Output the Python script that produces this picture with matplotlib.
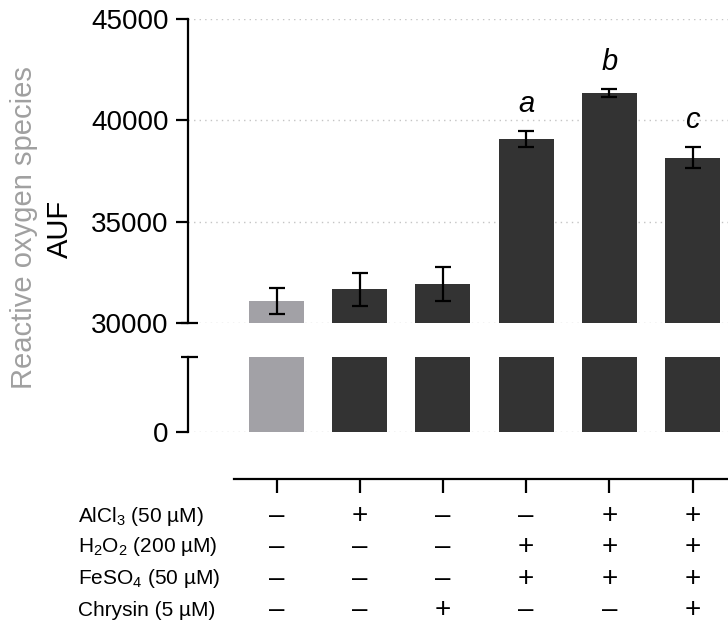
import matplotlib.pyplot as plt
from matplotlib.transforms import blended_transform_factory

plt.rcParams['font.family'] = ['Liberation Sans', 'DejaVu Sans']
plt.rcParams['mathtext.fontset'] = 'custom'
plt.rcParams['mathtext.rm'] = 'Liberation Sans'
plt.rcParams['mathtext.it'] = 'Liberation Sans:italic'

# data
groups = [0, 1, 2, 3, 4, 5]
ros_mean = [31100, 31660, 31910, 39080, 41340, 38160]
ros_err = [650, 800, 840, 380, 200, 500]
bar_colors = ['#a2a1a6', '#333333', '#333333', '#333333', '#333333', '#333333']
sig_letters = ['', '', '', 'a', 'b', 'c']

row_labels = [r'AlCl$_3$ (50 µM)', r'H$_2$O$_2$ (200 µM)',
              r'FeSO$_4$ (50 µM)', 'Chrysin (5 µM)']
treatments = [
    [0, 1, 0, 0, 1, 1],   # AlCl3
    [0, 0, 0, 1, 1, 1],   # H2O2
    [0, 0, 0, 1, 1, 1],   # FeSO4
    [0, 0, 1, 0, 0, 1],   # Chrysin
]

W, H = 728, 629
fig = plt.figure(figsize=(W / 100, H / 100), dpi=100)

def fx(px):
    return px / W

def fy(py):
    return 1 - py / H

left = fx(188)
width = 1 - left
xlim = (-1.064, 5.426)

ax_top = fig.add_axes([left, fy(323), width, fy(19) - fy(323)])
ax_bot = fig.add_axes([left, fy(432), width, fy(357) - fy(432)])
ax_tab = fig.add_axes([left, fy(479), width, 0.01])

grid_kw = dict(color='#c4c4c4', linestyle=(0, (1, 3)), linewidth=1.0, zorder=0)

for ax in (ax_top, ax_bot):
    ax.bar(groups, ros_mean, width=0.66, color=bar_colors, zorder=2)
    ax.set_xlim(*xlim)
    ax.spines[['top', 'right', 'bottom']].set_visible(False)
    ax.spines['left'].set_linewidth(1.6)
    ax.set_xticks([])
    ax.tick_params(axis='y', length=9, width=1.6, pad=5, labelsize=20)

# upper segment
ax_top.errorbar(groups, ros_mean, yerr=ros_err, fmt='none', ecolor='black',
                elinewidth=1.6, capsize=5.5, capthick=1.6, zorder=3)
ax_top.set_ylim(30000, 45000)
ax_top.set_yticks([30000, 35000, 40000, 45000])
for v in [30000, 35000, 40000, 45000]:
    ax_top.axhline(v, **grid_kw)
for x, m, e, s in zip(groups, ros_mean, ros_err, sig_letters):
    if s:
        ax_top.annotate(s, (x, m + e), xytext=(0, 14), textcoords='offset points',
                        ha='center', va='baseline', fontsize=21, style='italic')

# lower segment
ax_bot.set_ylim(0, 1000)
ax_bot.set_yticks([0])
ax_bot.axhline(0, **grid_kw)

# break caps
ax_top.plot([-0.013, 0.018], [0, 0], transform=ax_top.transAxes,
            color='black', lw=1.6, clip_on=False, solid_capstyle='butt')
ax_bot.plot([-0.013, 0.018], [1, 1], transform=ax_bot.transAxes,
            color='black', lw=1.6, clip_on=False, solid_capstyle='butt')

# treatment table
ax_tab.set_xlim(*xlim)
ax_tab.set_ylim(0, 1)
ax_tab.patch.set_visible(False)
ax_tab.spines[['top', 'right', 'left']].set_visible(False)
ax_tab.spines['bottom'].set_linewidth(1.6)
ax_tab.spines['bottom'].set_bounds(-0.51, xlim[1])
ax_tab.set_yticks([])
ax_tab.set_xticks(groups)
ax_tab.set_xticklabels([])
ax_tab.tick_params(axis='x', length=10, width=1.6, direction='out')

trans = blended_transform_factory(ax_tab.transData, fig.transFigure)
row_y = [516, 547, 579, 610]
for label, row, py in zip(row_labels, treatments, row_y):
    fig.text(fx(78), fy(py), label, ha='left', va='center', fontsize=15)
    for x, flag in zip(groups, row):
        ax_tab.text(x, fy(py), '+' if flag else '–', transform=trans,
                    ha='center', va='center', fontsize=20)

# y label
fig.text(fx(24), fy(228), 'Reactive oxygen species', rotation=90,
         ha='center', va='center', fontsize=21, color='#a0a0a0')
fig.text(fx(60), fy(229), 'AUF', rotation=90,
         ha='center', va='center', fontsize=21, color='black')

fig.savefig('out.png', dpi=100)
